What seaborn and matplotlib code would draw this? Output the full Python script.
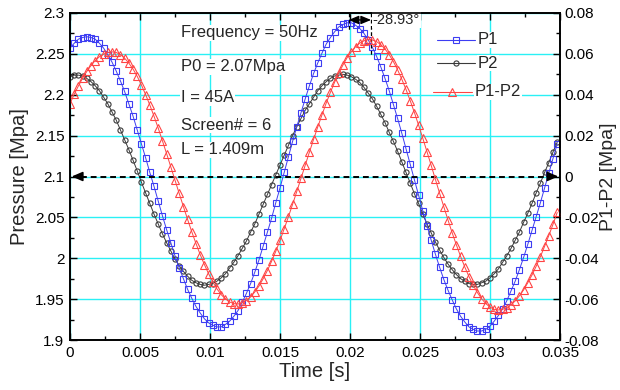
import numpy as np
import pandas as pd
import matplotlib
matplotlib.use("Agg")
import matplotlib.pyplot as plt
from matplotlib.ticker import FixedLocator, MultipleLocator, FuncFormatter
from matplotlib.lines import Line2D
import seaborn as sns

# ---- measured signals (sampled every 0.3 ms) ----
dt = 0.0003
n_samples = 117

p1 = [2.257, 2.263, 2.268, 2.270, 2.271, 2.270, 2.268, 2.263, 2.257, 2.249,
      2.240, 2.229, 2.217, 2.204, 2.189, 2.174, 2.157, 2.140, 2.123, 2.105,
      2.088, 2.070, 2.052, 2.035, 2.019, 2.003, 1.988, 1.975, 1.962, 1.951,
      1.941, 1.933, 1.926, 1.921, 1.918, 1.916, 1.916, 1.919, 1.923, 1.929,
      1.936, 1.946, 1.957, 1.969, 1.983, 1.998, 2.015, 2.032, 2.049, 2.068,
      2.086, 2.105, 2.124, 2.143, 2.161, 2.178, 2.195, 2.211, 2.226, 2.239,
      2.251, 2.262, 2.270, 2.277, 2.283, 2.286, 2.288, 2.288, 2.285, 2.281,
      2.275, 2.267, 2.258, 2.247, 2.234, 2.220, 2.205, 2.188, 2.171, 2.153,
      2.134, 2.115, 2.096, 2.077, 2.058, 2.040, 2.022, 2.005, 1.989, 1.974,
      1.961, 1.949, 1.938, 1.929, 1.922, 1.916, 1.913, 1.911, 1.911, 1.913,
      1.917, 1.923, 1.930, 1.938, 1.948, 1.960, 1.972, 1.986, 2.001, 2.017,
      2.034, 2.051, 2.068, 2.086, 2.104, 2.122, 2.140]

p2 = [2.222, 2.224, 2.224, 2.223, 2.220, 2.216, 2.211, 2.205, 2.197, 2.189,
      2.179, 2.169, 2.157, 2.145, 2.133, 2.120, 2.107, 2.093, 2.080, 2.067,
      2.054, 2.042, 2.030, 2.019, 2.009, 1.999, 1.991, 1.984, 1.978, 1.973,
      1.970, 1.968, 1.967, 1.968, 1.969, 1.972, 1.976, 1.981, 1.988, 1.995,
      2.003, 2.012, 2.021, 2.032, 2.042, 2.054, 2.066, 2.078, 2.090, 2.102,
      2.114, 2.126, 2.138, 2.150, 2.161, 2.171, 2.181, 2.189, 2.197, 2.205,
      2.211, 2.216, 2.220, 2.223, 2.224, 2.225, 2.224, 2.222, 2.219, 2.215,
      2.209, 2.202, 2.195, 2.186, 2.176, 2.166, 2.154, 2.143, 2.131, 2.118,
      2.105, 2.092, 2.079, 2.067, 2.054, 2.042, 2.031, 2.020, 2.010, 2.001,
      1.993, 1.986, 1.980, 1.975, 1.972, 1.969, 1.968, 1.968, 1.970, 1.972,
      1.976, 1.981, 1.987, 1.995, 2.003, 2.012, 2.022, 2.032, 2.044, 2.055,
      2.067, 2.080, 2.092, 2.105, 2.117, 2.130, 2.142]

p1_minus_p2 = [0.0357, 0.0402, 0.0443, 0.0481, 0.0514, 0.0543, 0.0567, 0.0586, 0.0599, 0.0607,
               0.0610, 0.0607, 0.0596, 0.0579, 0.0555, 0.0526, 0.0490, 0.0448, 0.0401, 0.0350,
               0.0295, 0.0237, 0.0175, 0.0112, 0.0047, -0.0018, -0.0083, -0.0147, -0.0210, -0.0271,
               -0.0328, -0.0382, -0.0431, -0.0476, -0.0516, -0.0550, -0.0578, -0.0599, -0.0614, -0.0622,
               -0.0624, -0.0618, -0.0607, -0.0589, -0.0565, -0.0536, -0.0500, -0.0460, -0.0415, -0.0366,
               -0.0313, -0.0256, -0.0197, -0.0136, -0.0073, -0.0009, 0.0055, 0.0119, 0.0182, 0.0243,
               0.0302, 0.0359, 0.0412, 0.0461, 0.0506, 0.0546, 0.0582, 0.0611, 0.0635, 0.0653,
               0.0664, 0.0670, 0.0668, 0.0660, 0.0645, 0.0624, 0.0596, 0.0562, 0.0522, 0.0476,
               0.0426, 0.0371, 0.0313, 0.0251, 0.0187, 0.0121, 0.0054, -0.0014, -0.0082, -0.0148,
               -0.0213, -0.0276, -0.0335, -0.0391, -0.0443, -0.0490, -0.0532, -0.0568, -0.0598, -0.0622,
               -0.0639, -0.0650, -0.0653, -0.0650, -0.0642, -0.0628, -0.0609, -0.0584, -0.0555, -0.0520,
               -0.0482, -0.0439, -0.0392, -0.0342, -0.0289, -0.0234, -0.0176]

series_names = ["P1", "P2", "P1-P2"]
info_lines = ["Frequency = 50Hz", "P0 = 2.07Mpa", "I = 45A", "Screen# = 6", "L = 1.409m"]
x_ticks = [0, 0.005, 0.01, 0.015, 0.02, 0.025, 0.03, 0.035]
left_ticks = [1.9, 1.95, 2.0, 2.05, 2.1, 2.15, 2.2, 2.25, 2.3]
right_ticks = [-0.08, -0.06, -0.04, -0.02, 0, 0.02, 0.04, 0.06, 0.08]

frequency_hz = 50
phase_deg = -28.93
p1_peak_t = 0.0199
ref_level = 2.1

t = np.round(np.arange(n_samples) * dt, 4)
df = pd.DataFrame({"t": t, "P1": p1, "P2": p2, "P1-P2": p1_minus_p2})

# ---- styling ----
sns.set_theme(style="ticks")
plt.rcParams["font.family"] = ["Liberation Sans", "DejaVu Sans"]
plt.rcParams["axes.linewidth"] = 1.2

c_p1 = "#3d3df2"
c_p2 = "#3a3a3a"
c_d = "#ff4444"
grid_c = "#2af0f5"
ms_sq, ms_ci, ms_tr = 5.0, 3.7, 5.2

fig = plt.figure(figsize=(6.2, 3.9), dpi=100)
ax = fig.add_axes([70 / 620, 1 - 340 / 390, 490 / 620, 327 / 390])
ax2 = ax.twinx()

line_kw = dict(linewidth=0.7, markerfacecolor="none", markeredgewidth=0.8, legend=False)
sns.lineplot(data=df, x="t", y="P2", ax=ax, color=c_p2, marker="o", markersize=ms_ci,
             markeredgecolor=c_p2, **line_kw)
sns.lineplot(data=df, x="t", y="P1", ax=ax, color=c_p1, marker="s", markersize=ms_sq,
             markeredgecolor=c_p1, **line_kw)
sns.lineplot(data=df, x="t", y="P1-P2", ax=ax2, color=c_d, marker="^", markersize=ms_tr,
             markeredgecolor=c_d, **line_kw)

# axes limits / ticks
ax.set_xlim(0, 0.035)
ax.set_ylim(1.9, 2.3)
ax2.set_ylim(-0.08, 0.08)
fmt = FuncFormatter(lambda v, pos: "%g" % round(v, 6))
ax.xaxis.set_major_locator(FixedLocator(x_ticks))
ax.xaxis.set_minor_locator(MultipleLocator(0.0025))
ax.yaxis.set_major_locator(FixedLocator(left_ticks))
ax.yaxis.set_minor_locator(MultipleLocator(0.025))
ax2.yaxis.set_major_locator(FixedLocator(right_ticks))
ax2.yaxis.set_minor_locator(MultipleLocator(0.01))
for a in (ax.xaxis, ax.yaxis, ax2.yaxis):
    a.set_major_formatter(fmt)

ax.tick_params(which="both", direction="in", top=True, right=False, colors="black",
               labelsize=11, width=1.0)
ax.tick_params(which="major", length=5, pad=4)
ax.tick_params(which="minor", length=3)
ax2.tick_params(which="both", direction="in", colors="black", labelsize=11, width=1.0)
ax2.tick_params(which="major", length=5, pad=3)
ax2.tick_params(which="minor", length=3)

ax.grid(True, which="major", color=grid_c, linewidth=1.0)
ax.set_axisbelow(True)
for a in (ax, ax2):
    for s in a.spines.values():
        s.set_color("black")
        s.set_linewidth(1.2)

ax.set_xlabel("Time [s]", fontsize=14.5, labelpad=2)
ax.set_ylabel("Pressure [Mpa]", fontsize=14.5, labelpad=4)
ax2.set_ylabel("P1-P2 [Mpa]", fontsize=14, labelpad=1)

# ---- reference level arrow at 2.1 Mpa ----
ax.plot([0.0008, 0.0342], [ref_level, ref_level], color="black", linewidth=1.4,
        dashes=(3, 2), zorder=4)
for tip, base in ((0.00012, 0.0009), (0.03488, 0.0341)):
    ax.annotate("", xy=(tip, ref_level), xytext=(base, ref_level),
                arrowprops=dict(arrowstyle="-|>,head_length=0.65,head_width=0.28",
                                color="black", lw=1.2, shrinkA=0, shrinkB=0,
                                mutation_scale=10), zorder=5)

# ---- phase shift marker between P1 and P1-P2 peaks ----
shift_t = abs(phase_deg) / 360.0 / frequency_hz
d_peak_t = p1_peak_t + shift_t
ax.plot([p1_peak_t, p1_peak_t], [2.3, 2.279], color="black", linewidth=0.9,
        dashes=(3, 2), zorder=4)
ax.plot([d_peak_t, d_peak_t], [2.3, 2.248], color="black", linewidth=0.9,
        dashes=(3, 2), zorder=4)
ax.annotate("", xy=(p1_peak_t, 2.2915), xytext=(d_peak_t, 2.2915),
            arrowprops=dict(arrowstyle="<|-|>,head_length=0.6,head_width=0.25",
                            color="black", lw=1.0, shrinkA=0, shrinkB=0,
                            mutation_scale=10), zorder=5)
ax.text(d_peak_t + 0.00012, 2.2915, "%.2f°" % phase_deg, fontsize=10.5,
        va="center", ha="left", zorder=5,
        bbox=dict(facecolor="white", edgecolor="none", pad=0.5))

# ---- test condition notes ----
note_y_px = [33, 67, 98, 125, 150]
for txt, ypx in zip(info_lines, note_y_px):
    ax.text((181 - 70) / 490, 1 - (ypx - 13) / 327, txt, transform=ax.transAxes,
            fontsize=12, va="center", ha="left", zorder=1.5,
            bbox=dict(facecolor="white", edgecolor="none", pad=0.6))

# ---- legend ----
legend_rows = [
    (series_names[0], c_p1, "s", ms_sq, 437, 475, 40),
    (series_names[1], c_p2, "o", ms_ci, 437, 475, 63),
    (series_names[2], c_d, "^", ms_tr, 433, 472, 92),
]
for name, col, mk, ms, x0, x1, ypx in legend_rows:
    yf = 1 - (ypx - 13) / 327
    xa, xb = (x0 - 70) / 490, (x1 - 70) / 490
    ax2.add_line(Line2D([xa, (xa + xb) / 2, xb], [yf, yf, yf], transform=ax2.transAxes,
                        color=col, linewidth=0.8, marker=mk, markevery=[1],
                        markersize=ms, markerfacecolor="none", markeredgecolor=col,
                        markeredgewidth=0.8, zorder=6))
    ax2.text(xb + 3 / 490, yf, name, transform=ax2.transAxes, fontsize=12,
             va="center", ha="left", zorder=6,
             bbox=dict(facecolor="white", edgecolor="none", pad=0.6))

fig.savefig("out.png", dpi=100)
